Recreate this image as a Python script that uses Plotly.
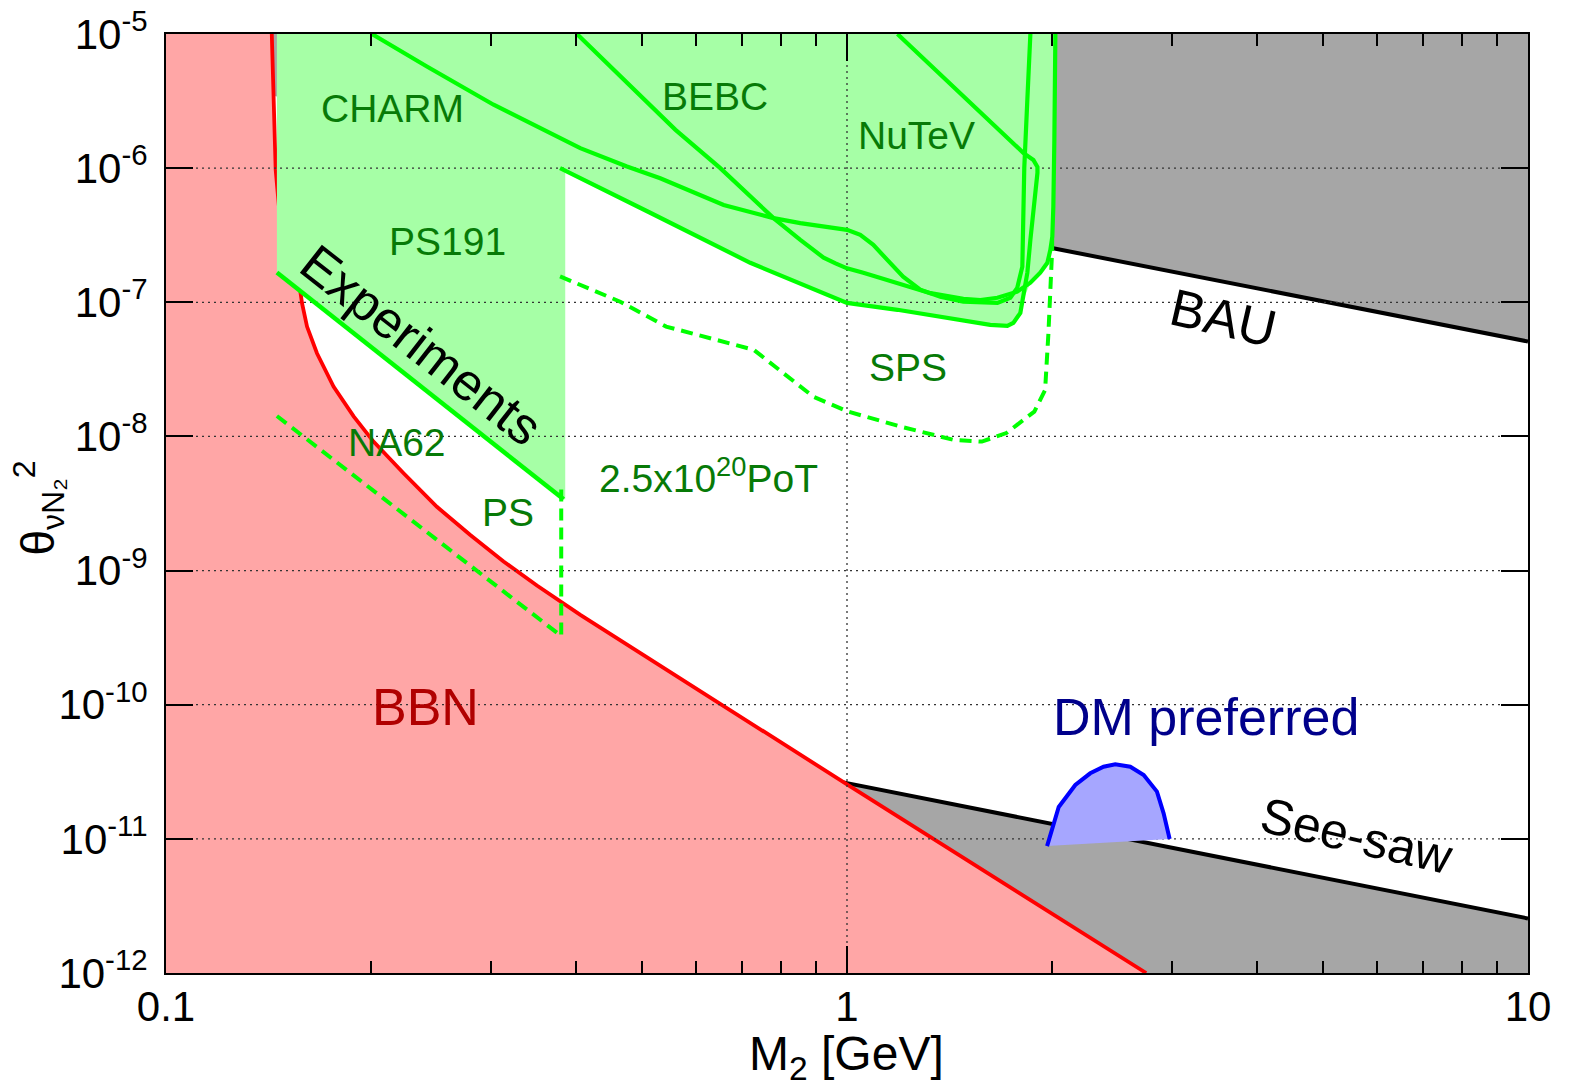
import plotly.graph_objects as go

# ---------------- data ----------------
# BBN lower bound (red)
BBN_x = [0.143, 0.1439, 0.1449, 0.1475, 0.1575, 0.1584, 0.1611, 0.1666, 0.1762, 0.1886,
         0.2017, 0.2233, 0.2499, 0.2798, 0.3131, 0.3505, 0.3793, 0.4059, 0.5, 1.0, 2.75]
BBN_y = [1e-5, 3.23e-6, 9.7e-7, 3.5e-7, 1.20e-7, 9.84e-8, 6.59e-8, 4.17e-8, 2.35e-8, 1.41e-8,
         9.15e-9, 5.32e-9, 2.99e-9, 1.84e-9, 1.17e-9, 7.74e-10, 5.87e-10, 4.68e-10, 2.38e-10,
         2.55e-11, 1e-12]

# BAU upper bound (black) and see-saw lower bound (black)
BAU_x = [0.14, 1.99, 10.0]
BAU_y = [3.55e-6, 2.55e-7, 5.1e-8]
SEESAW_x = [0.93, 10.0]
SEESAW_y = [2.8e-11, 2.55e-12]

# experiments
PS191_x = [0.1455, 0.3836]
PS191_y = [1.67e-7, 3.40e-9]
EXP_EDGE_x = [0.1455, 0.1455, 0.3836, 0.3857, 0.3857]
EXP_EDGE_y = [1e-5, 1.67e-7, 3.40e-9, 3.40e-9, 9.6e-7]

CHARM_x = [0.2006, 0.2416, 0.3027, 0.4058, 0.4752, 0.5318, 0.659, 0.780, 0.854, 1.0, 1.046,
           1.093, 1.146, 1.209, 1.281, 1.371, 1.482, 1.663, 1.737, 1.778, 1.809, 1.821, 1.840, 1.859]
CHARM_y = [1e-5, 5.72e-6, 2.97e-6, 1.41e-6, 1.03e-6, 8.41e-7, 5.32e-7, 4.24e-7, 3.89e-7, 3.47e-7,
           3.18e-7, 2.68e-7, 2.07e-7, 1.55e-7, 1.24e-7, 1.10e-7, 1.01e-7, 9.9e-8, 1.08e-7, 1.28e-7,
           1.84e-7, 1.0e-6, 3.23e-6, 1e-5]

BEBC_x = [0.4013, 0.4645, 0.560, 0.6515, 0.721, 0.780, 0.854, 0.924, 0.962, 1.0, 1.0566, 1.186,
          1.326, 1.482, 1.570, 1.663, 1.778, 1.859, 1.922, 1.969, 1.989, 2.002, 2.009, 2.016, 2.023]
BEBC_y = [1e-5, 4.88e-6, 1.93e-6, 1.0e-6, 6.14e-7, 4.24e-7, 2.92e-7, 2.15e-7, 1.95e-7, 1.79e-7,
          1.66e-7, 1.39e-7, 1.17e-7, 1.06e-7, 1.04e-7, 1.08e-7, 1.20e-7, 1.40e-7, 1.66e-7, 1.97e-7,
          2.46e-7, 3.08e-7, 5.15e-7, 1.62e-6, 1e-5]

NUTEV_x = [1.186, 1.737, 1.815, 1.878, 1.904, 1.904, 1.878, 1.859, 1.840, 1.815, 1.797, 1.755,
           1.720, 1.623, 1.404, 1.186, 1.0, 0.934, 0.721, 0.514, 0.379]
NUTEV_y = [1e-5, 1.62e-6, 1.30e-6, 1.15e-6, 1.02e-6, 9.23e-7, 5.14e-7, 2.92e-7, 1.66e-7, 1.04e-7,
           8.34e-8, 7.02e-8, 6.67e-8, 6.79e-8, 7.66e-8, 8.79e-8, 9.9e-8, 1.14e-7, 1.97e-7, 4.65e-7, 1.0e-6]

# future sensitivities (dashed)
SPS_x = [0.379, 0.4645, 0.5425, 0.7297, 0.7838, 0.8923, 1.0044, 1.2014, 1.435, 1.578, 1.714,
         1.884, 1.954, 1.976, 2.001, 2.001]
SPS_y = [1.56e-7, 1.01e-7, 6.59e-8, 4.42e-8, 3.32e-8, 1.98e-8, 1.53e-8, 1.18e-8, 9.42e-9, 9.15e-9,
         1.06e-8, 1.53e-8, 2.22e-8, 5.89e-8, 2.46e-7, 3.02e-7]
PS_x = [0.1455, 0.3805, 0.3805]
PS_y = [1.42e-8, 3.25e-10, 4.5e-9]

# DM preferred region
DM_x = [1.967, 2.001, 2.046, 2.164, 2.276, 2.381, 2.477, 2.606, 2.727, 2.852, 2.917, 2.977]
DM_y = [8.83e-12, 1.16e-11, 1.73e-11, 2.52e-11, 3.08e-11, 3.45e-11, 3.6e-11, 3.45e-11, 2.99e-11,
        2.25e-11, 1.55e-11, 9.98e-12]

# axes
XTICKS = [0.1, 1, 10]
XTICK_TEXT = ["0.1", "1", "10"]
XMINOR = [0.2, 0.3, 0.4, 0.5, 0.6, 0.7, 0.8, 0.9, 2, 3, 4, 5, 6, 7, 8, 9]
YEXP = [-12, -11, -10, -9, -8, -7, -6, -5]
YTICKS = [10.0 ** e for e in YEXP]
YTICK_TEXT = ["10<sup>%d</sup>" % e for e in YEXP]
XMIN, XMAX = XTICKS[0], XTICKS[-1]
YMIN, YMAX = YTICKS[0], YTICKS[-1]

# ---------------- figure ----------------
FONT = "Liberation Sans, Arial, sans-serif"
GREEN = "#00ff00"
fig = go.Figure()


def add_fill(xs, ys, color):
    fig.add_trace(go.Scatter(x=xs, y=ys, mode="lines", fill="toself", fillcolor=color,
                             line=dict(width=0), hoverinfo="skip", showlegend=False))


def add_line(xs, ys, color, width=4.0, dash="solid"):
    fig.add_trace(go.Scatter(x=xs, y=ys, mode="lines",
                             line=dict(color=color, width=width, dash=dash),
                             hoverinfo="skip", showlegend=False))


# gray regions
add_fill(BAU_x + [XMAX, BAU_x[0]], BAU_y + [YMAX, YMAX], "#a6a6a6")
add_fill(SEESAW_x + [XMAX, SEESAW_x[0]], SEESAW_y + [YMIN, YMIN], "#a6a6a6")
add_line(BAU_x[1:], BAU_y[1:], "black", 4)
add_line(SEESAW_x, SEESAW_y, "black", 4)

# BBN
add_fill(BBN_x + [XMIN, XMIN], BBN_y + [YMIN, YMAX], "#ffa6a6")
add_line(BBN_x, BBN_y, "#ff0000", 3.8)

# experiments excluded region
nut_bottom = list(range(19, 8, -1))  # from 0.514 GeV to the right corner
bebc_right = BEBC_x.index(1.859)
excl_x = EXP_EDGE_x + [NUTEV_x[i] for i in nut_bottom] + BEBC_x[bebc_right:]
excl_y = EXP_EDGE_y + [NUTEV_y[i] for i in nut_bottom] + BEBC_y[bebc_right:]
add_fill(excl_x, excl_y, "#a6ffa6")

# grid lines (drawn above the fills)
for v in YTICKS[1:-1]:
    add_line([XMIN, XMAX], [v, v], "#333333", 1.3, "2px,4px")
add_line([XTICKS[1], XTICKS[1]], [YMIN, YMAX], "#333333", 1.3, "2px,4px")

# experiment lines
add_line(PS191_x, PS191_y, GREEN, 4.5)
add_line(CHARM_x, CHARM_y, GREEN, 4.2)
add_line(BEBC_x, BEBC_y, GREEN, 4.2)
add_line(NUTEV_x, NUTEV_y, GREEN, 4.2)
add_line(SPS_x, SPS_y, GREEN, 4, "12px,7px")
add_line(PS_x, PS_y, GREEN, 4, "12px,7px")

# DM preferred
add_fill(DM_x, DM_y, "#a6a6ff")
add_line(DM_x, DM_y, "#0000ff", 4)


def label(text, xp, yp, size, color, angle=0):
    fig.add_annotation(text=text, x=xp, y=yp, xref="paper", yref="paper",
                       showarrow=False, textangle=angle, xanchor="center", yanchor="middle",
                       font=dict(family=FONT, size=size, color=color))


DG = "#077a07"
label("CHARM", 0.1661, 0.9209, 39, DG)
label("BEBC", 0.4029, 0.9336, 39, DG)
label("NuTeV", 0.5512, 0.8919, 39, DG)
label("PS191", 0.2067, 0.7795, 39, DG)
label("NA62", 0.1697, 0.5654, 39, DG)
label("PS", 0.2510, 0.4904, 39, DG)
label("2.5x10<sup>20</sup>PoT", 0.3985, 0.530, 39, DG)
label("SPS", 0.5446, 0.6445, 39, DG)
label("Experiments", 0.1875, 0.669, 52, "black", 38)
label("BAU", 0.7764, 0.698, 52, "black", 13)
label("See-saw", 0.8740, 0.1457, 50, "black", 13)
label("BBN", 0.1905, 0.2838, 52, "#b00000")
label("DM preferred", 0.7639, 0.2731, 52, "#00008b")

# axis titles
label("M<sub>2</sub> [GeV]", 0.4994, -0.0895, 48, "black")
label("θ<sub>νN₂</sub><sup>2</sup>", -0.0935, 0.4953, 46, "black", -90)

axis_common = dict(showline=True, linecolor="black", linewidth=2, mirror="ticks",
                   ticks="inside", ticklen=27, tickwidth=2, tickcolor="black",
                   showgrid=False, zeroline=False, layer="above traces", automargin=False,
                   tickfont=dict(family=FONT, size=42, color="black"))

fig.update_xaxes(type="log", range=[-1, 1], tickmode="array", tickvals=XTICKS,
                 ticktext=XTICK_TEXT, ticklabelstandoff=-4,
                 minor=dict(tickmode="array", tickvals=XMINOR, ticks="inside", ticklen=12,
                            tickwidth=2, tickcolor="black", showgrid=False),
                 **axis_common)
fig.update_yaxes(type="log", range=[-12, -5], tickmode="array", tickvals=YTICKS,
                 ticktext=YTICK_TEXT, ticklabelstandoff=8, **axis_common)

fig.update_layout(width=1576, height=1092, margin=dict(l=166, r=48, t=34, b=119),
                  paper_bgcolor="white", plot_bgcolor="white", showlegend=False,
                  font=dict(family=FONT))

fig.write_html("out.html")
